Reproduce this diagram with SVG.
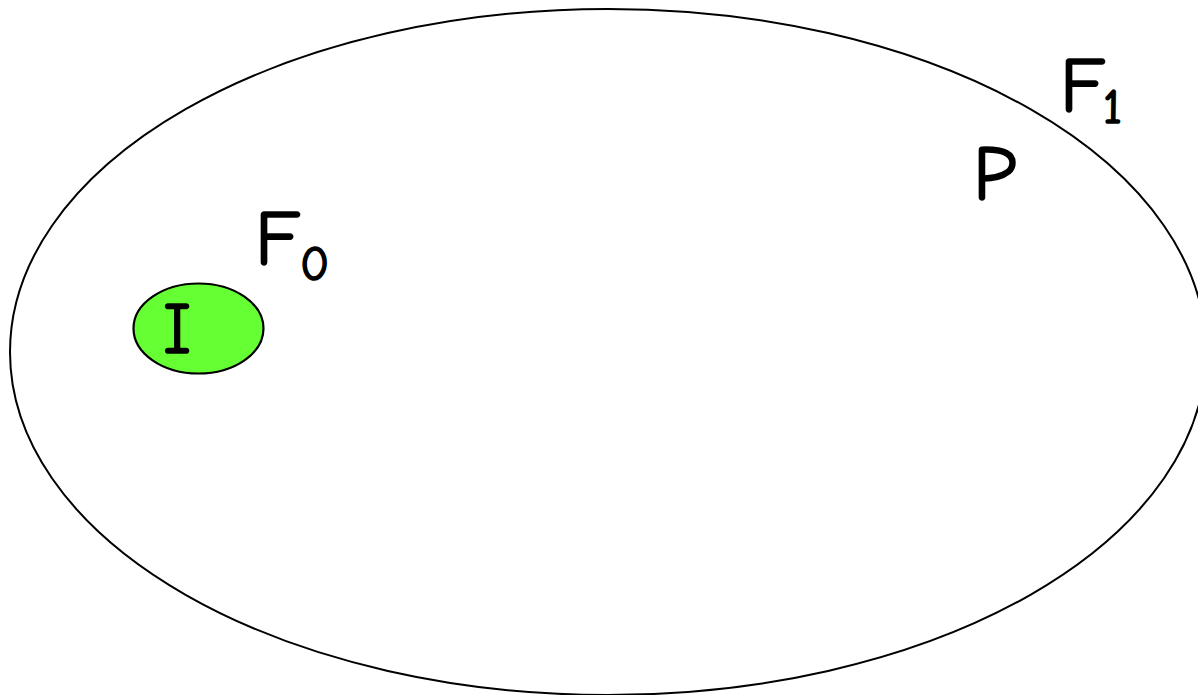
<svg xmlns="http://www.w3.org/2000/svg" width="1198" height="695" viewBox="0 0 1198 695">
<style>
.lbl{font-family:"Comic Neue","Noto Sans","DejaVu Sans",sans-serif;fill:#000;stroke:#000;stroke-width:1.6;font-weight:normal}
.big{font-size:78px}
.sub{font-size:48px}
</style>
<rect width="1198" height="695" fill="#fff"/>
<g id="F1-region">
<ellipse cx="608" cy="352" rx="598" ry="343" fill="none" stroke="#000" stroke-width="2"/>
</g>
<g id="I-node">
<ellipse cx="198.5" cy="328.5" rx="65" ry="45" fill="#66ff33" stroke="#000" stroke-width="2.2"/>
<text class="lbl" x="177" y="353" font-size="72" text-anchor="middle">I</text>
</g>
<g id="F0-label">
<text class="lbl big" x="255" y="265">F<tspan class="sub" dx="0" dy="15">0</tspan></text>
</g>
<g id="F1-label">
<text class="lbl big" x="1060" y="112">F<tspan class="sub" dx="-2" dy="11">1</tspan></text>
</g>
<g id="P-label">
<text class="lbl big" x="973" y="200">P</text>
</g>
<g id="connectors"/>
</svg>
